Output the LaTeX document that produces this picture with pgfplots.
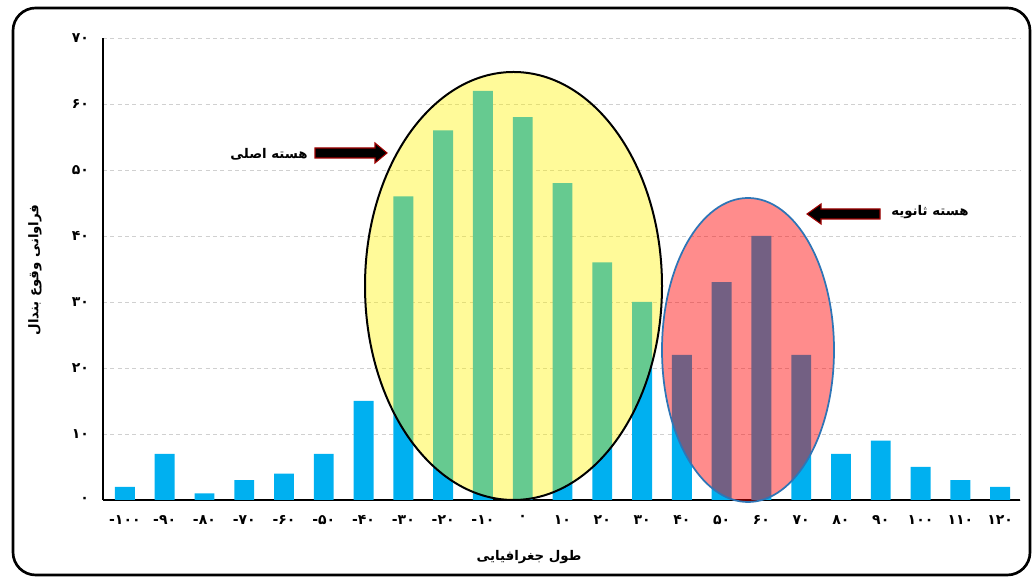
\documentclass[border=0pt]{standalone}
\usepackage{fontspec}
\usepackage{pgfplots}
\usepackage{pgfplotstable}
\pgfplotsset{compat=1.18}
\setmainfont{DejaVu Sans}
\newfontfamily\fa[Script=Arabic]{DejaVu Sans}
\TeXXeTstate=1
% negative tick label: keep the minus on the left of the digits
\newcommand\mn[1]{\hbox{-}\hbox{#1}}

\definecolor{barblue}{HTML}{00B0F0}
\definecolor{gridgray}{HTML}{D0D0D0}
\definecolor{ringblue}{HTML}{2E75B6}
\definecolor{arrowred}{HTML}{A00000}

% frequency of blocking occurrence per longitude band
\pgfplotstableread{
lon freq
-100 2
-90 7
-80 1
-70 3
-60 4
-50 7
-40 15
-30 46
-20 56
-10 62
0 58
10 48
20 36
30 30
40 22
50 33
60 40
70 22
80 7
90 9
100 5
110 3
120 2
}\freqdata

\begin{document}
\begin{tikzpicture}
\begin{axis}[
  scale only axis,
  width=687.75pt, height=346.5pt,
  xmin=-105.5, xmax=125, ymin=0, ymax=70,
  axis x line=bottom, axis y line=left,
  axis line style={-, line width=1.5pt},
  xtick={-100,-90,...,120},
  xticklabels={\mn{۱۰۰},\mn{۹۰},\mn{۸۰},\mn{۷۰},\mn{۶۰},\mn{۵۰},\mn{۴۰},\mn{۳۰},\mn{۲۰},\mn{۱۰},۰,۱۰,۲۰,۳۰,۴۰,۵۰,۶۰,۷۰,۸۰,۹۰,۱۰۰,۱۱۰,۱۲۰},
  ytick={0,10,...,70},
  yticklabels={۰,۱۰,۲۰,۳۰,۴۰,۵۰,۶۰,۷۰},
  major tick length=0pt,
  ymajorgrids,
  grid style={gridgray, dash pattern=on 3pt off 2.5pt, line width=0.6pt},
  ticklabel style={font=\fa\bfseries\fontsize{10.5}{12}\selectfont},
  xticklabel style={yshift=-8pt},
  yticklabel style={xshift=-7pt},
  clip=false,
]
\addplot[ybar, bar width=5, bar shift=0pt, fill=barblue, draw=none] table[x=lon, y=freq] {\freqdata};
\end{axis}

% annotations, laid out in pixel units of the 1034x580 canvas
\begin{scope}[shift={(current axis.south west)}, x=0.75pt, y=-0.75pt, shift={(-103,-500)}]
  % primary core
  \filldraw[fill=yellow, fill opacity=0.4, draw=black, draw opacity=1, line width=1.5pt]
    (513.5,286) ellipse [x radius=148.5, y radius=214];
  % secondary core
  \filldraw[fill=red, fill opacity=0.45, draw=ringblue, draw opacity=1, line width=1.3pt]
    (748,350) ellipse [x radius=86, y radius=152];
  % arrows
  \filldraw[fill=black, draw=arrowred, line width=0.8pt]
    (315,148) -- (375,148) -- (375,143) -- (387,153) -- (375,163) -- (375,158) -- (315,158) -- cycle;
  \filldraw[fill=black, draw=arrowred, line width=0.8pt]
    (880,209) -- (821,209) -- (821,204) -- (807,214) -- (821,224) -- (821,219) -- (880,219) -- cycle;
  \node[font=\fa\bfseries\fontsize{10}{12}\selectfont] at (269,154) {\beginR هسته اصلی\endR};
  \node[font=\fa\bfseries\fontsize{10}{12}\selectfont] at (930,212) {\beginR هسته ثانویه\endR};
  % axis titles
  \node[font=\fa\bfseries\fontsize{10}{12}\selectfont] at (529,557) {\beginR طول جغرافیایی\endR};
  \node[font=\fa\bfseries\fontsize{10}{12}\selectfont, rotate=90] at (35,270) {\beginR فراوانی وقوع بندال\endR};
  % outer frame
  \draw[line width=2pt, rounded corners=17pt] (13,8) rectangle (1030,575);
  \pgfresetboundingbox
  \path[use as bounding box] (0,0) rectangle (1034,580);
\end{scope}
\end{tikzpicture}
\end{document}
